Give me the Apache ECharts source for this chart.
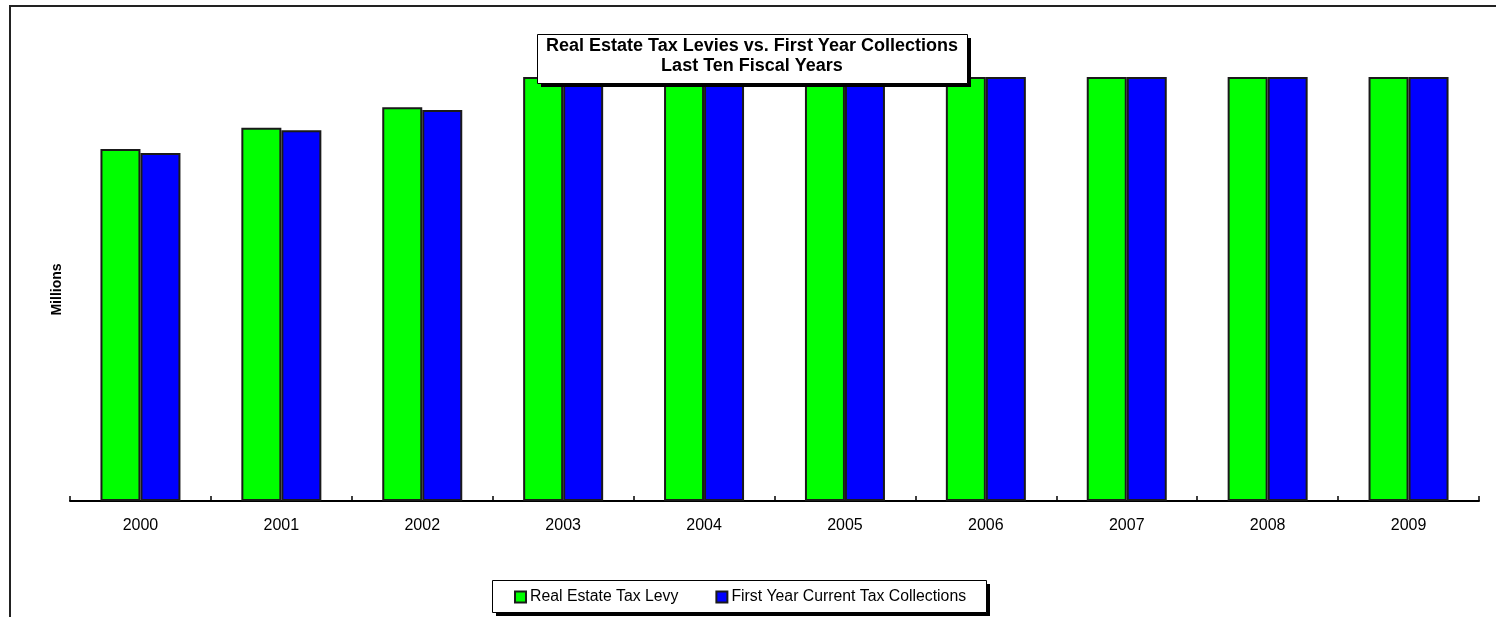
<!DOCTYPE html>
<html>
<head>
<meta charset="utf-8">
<script src="https://cdn.jsdelivr.net/npm/echarts@6/dist/echarts.min.js"></script>
<style>
  html, body { margin: 0; padding: 0; background: #fff; }
  #main { width: 1496px; height: 617px; }
</style>
</head>
<body>
<div id="main"></div>
<script>
// data
var years = ['2000', '2001', '2002', '2003', '2004', '2005', '2006', '2007', '2008', '2009'];
// millions; 2003 on run past the top of the axis in the original
var levy = [116.5, 123.5, 130.3, 147, 156, 164, 172, 181, 189, 196];
var collections = [115.2, 122.7, 129.4, 145, 154, 162, 170, 178, 186, 193];
var seriesNames = ['Real Estate Tax Levy', 'First Year Current Tax Collections'];
var chartTitle = 'Real Estate Tax Levies vs. First Year Collections\nLast Ten Fiscal Years';

var font = '"Liberation Sans", Arial, sans-serif';

// box with a hard black drop shadow
function shadowBox(x, y, w, h, z) {
    return [
        {
            type: 'rect', silent: true, z: z,
            shape: { x: x + 4, y: y + 4, width: w, height: h },
            style: { fill: '#000' }
        },
        {
            type: 'rect', silent: true, z: z,
            shape: { x: x + 0.5, y: y + 0.5, width: w, height: h },
            style: { fill: '#fff', stroke: '#000', lineWidth: 1 }
        }
    ];
}

(function () {
    var myChart = echarts.init(document.getElementById('main'));
    var option = {
        animation: false,
        title: {
            text: chartTitle,
            left: 752,
            top: 36,
            textAlign: 'center',
            padding: 0,
            textStyle: {
                fontFamily: font,
                fontSize: 18,
                fontWeight: 'bold',
                color: '#000',
                lineHeight: 20
            },
            z: 8
        },
        graphic: [
            // outer frame, runs off the right and bottom of the picture
            {
                type: 'rect', silent: true, z: 0,
                shape: { x: 10, y: 6, width: 1600, height: 700 },
                style: { fill: 'none', stroke: '#222', lineWidth: 2 }
            }
        ].concat(shadowBox(537, 34, 430, 49, 7), shadowBox(492, 580, 494, 32, 3)),
        legend: {
            data: seriesNames,
            left: 514,
            top: 589,
            padding: 0,
            itemGap: 37,
            itemWidth: 11,
            itemHeight: 11,
            icon: 'rect',
            textStyle: {
                fontFamily: font,
                fontSize: 15.8,
                color: '#000',
                padding: [0, 0, 0, -1]
            }
        },
        grid: {
            left: 70,
            right: 17,
            top: 78,
            bottom: 116
        },
        xAxis: {
            type: 'category',
            data: years,
            axisLine: { lineStyle: { color: '#000', width: 2 } },
            axisTick: { show: true, inside: true, length: 5, lineStyle: { color: '#000', width: 1.5 } },
            axisLabel: {
                fontFamily: font,
                fontSize: 16,
                color: '#000',
                margin: 17
            }
        },
        yAxis: {
            type: 'value',
            min: 0,
            max: 140,
            name: 'Millions',
            nameLocation: 'middle',
            nameRotate: 90,
            nameGap: 6,
            nameTextStyle: {
                fontFamily: font,
                fontSize: 14,
                fontWeight: 'bold',
                color: '#000'
            },
            axisLine: { show: false },
            axisTick: { show: false },
            axisLabel: { show: false },
            splitLine: { show: false }
        },
        series: [
            {
                name: seriesNames[0],
                type: 'bar',
                data: levy,
                barWidth: 40,
                barGap: 0,
                clip: true,
                itemStyle: { color: '#00ff00', borderColor: '#1a1a1a', borderWidth: 2 }
            },
            {
                name: seriesNames[1],
                type: 'bar',
                data: collections,
                barWidth: 40,
                barGap: 0,
                clip: true,
                itemStyle: { color: '#0000ff', borderColor: '#1a1a1a', borderWidth: 2 }
            }
        ]
    };
    myChart.setOption(option);
})();
</script>
</body>
</html>
